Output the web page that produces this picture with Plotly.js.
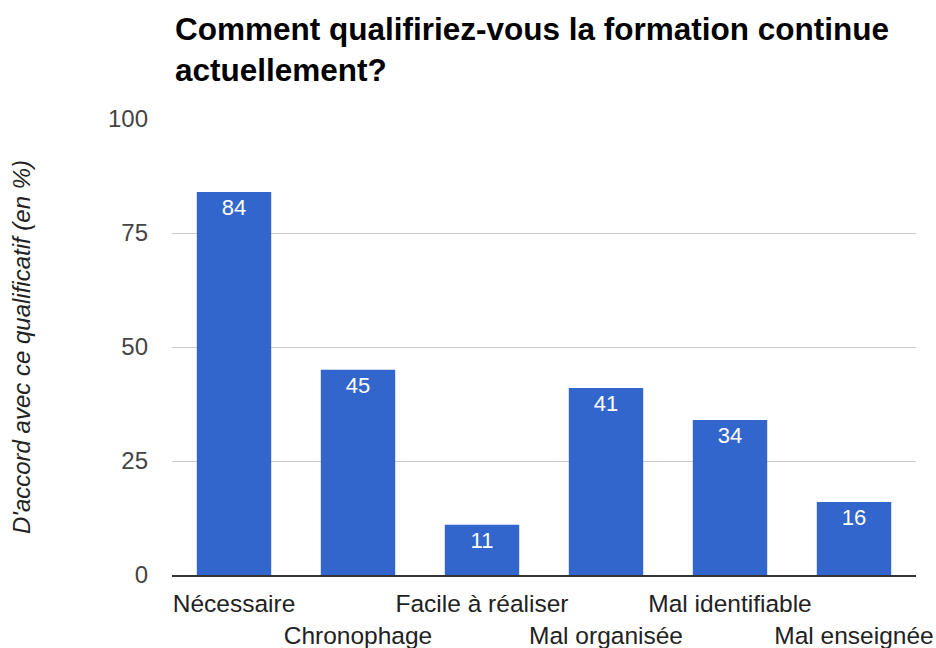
<!DOCTYPE html>
<html>
<head>
<meta charset="utf-8">
<script src="https://cdn.plot.ly/plotly-3.0.1.min.js"></script>
<style>html,body{margin:0;padding:0;background:#fff;}#chart{width:936px;height:648px;}</style>
</head>
<body>
<div id="chart"></div>
<script>
const categories = ["Nécessaire", "Chronophage", "Facile à réaliser", "Mal organisée", "Mal identifiable", "Mal enseignée"];
const values = [84, 45, 11, 41, 34, 16];
const yTicks = [0, 25, 50, 75, 100];
const titleText = "Comment qualifiriez-vous la formation continue<br>actuellement?";
const yTitleText = "D'accord avec ce qualificatif (en %)";

// alternate rows for category labels
const tickText = categories.map((c, i) => (i % 2 === 1 ? "<br>" + c : c));

const trace = {
  type: "bar",
  x: categories,
  y: values,
  marker: { color: "#3366cc" },
  text: values.map(String),
  textposition: "inside",
  insidetextanchor: "end",
  textangle: 0,
  textfont: { family: "Arial, Liberation Sans, sans-serif", size: 22, color: "#ffffff" },
  hoverinfo: "x+y"
};

const layout = {
  width: 936,
  height: 648,
  margin: { l: 172, r: 20, t: 119, b: 73, pad: 0 },
  paper_bgcolor: "#ffffff",
  plot_bgcolor: "#ffffff",
  showlegend: false,
  bargap: 0.4,
  font: { family: "Arial, Liberation Sans, sans-serif", color: "#444" },
  title: {
    text: titleText,
    font: { family: "Arial, Liberation Sans, sans-serif", size: 31.5, color: "#000", weight: "bold" },
    xref: "container", x: 175 / 936, xanchor: "left",
    yref: "container", y: 1 - 40 / 648, yanchor: "top"
  },
  xaxis: {
    type: "category",
    tickmode: "array",
    tickvals: categories,
    ticktext: tickText,
    tickangle: 0,
    tickfont: { size: 24.5, color: "#222" },
    ticklabelstandoff: 6,
    showgrid: false,
    showline: true,
    linecolor: "#333",
    linewidth: 1.5,
    ticks: "",
    automargin: false,
    fixedrange: true
  },
  yaxis: {
    range: [0, 100],
    tickmode: "array",
    tickvals: yTicks,
    ticktext: yTicks.map(String),
    tickfont: { size: 24, color: "#444" },
    showgrid: true,
    gridcolor: "#cccccc",
    gridwidth: 1,
    zeroline: false,
    ticks: "",
    ticklabelstandoff: 23,
    automargin: false,
    title: {
      text: yTitleText,
      font: { size: 24, color: "#222", style: "italic" },
      standoff: 70
    },
    fixedrange: true
  }
};

Plotly.newPlot("chart", [trace], layout, { displayModeBar: false, staticPlot: true });
</script>
</body>
</html>
